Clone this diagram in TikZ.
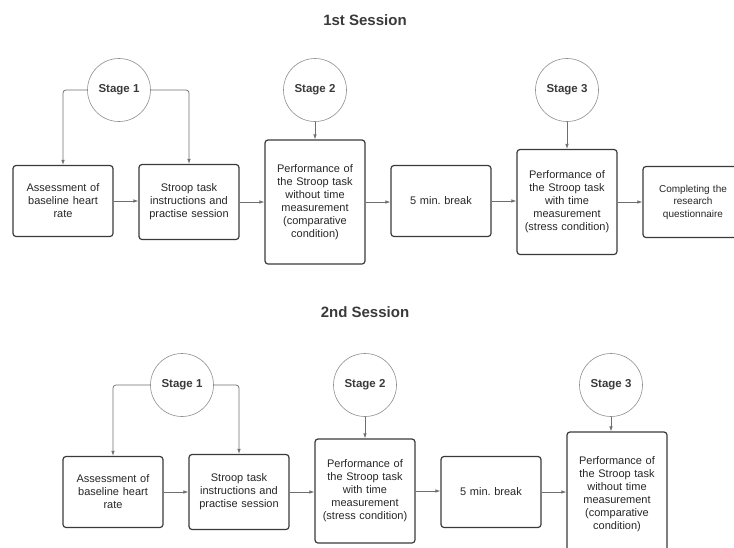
\documentclass[tikz,border=0pt]{standalone}
\usepackage{fontspec}
\setmainfont{Liberation Sans}
\usetikzlibrary{arrows.meta}
\definecolor{ink}{HTML}{262626}
\definecolor{rim}{HTML}{3A3A3A}
\definecolor{wire}{HTML}{6E6E6E}
\definecolor{ring}{HTML}{8E8E8E}
\frenchspacing

\begin{document}
\begin{tikzpicture}[x=1pt,y=-1pt,
  stepbox/.style={draw=rim,line width=1.2pt,rounded corners=3pt,minimum width=100pt,
    text width=96pt,align=center,inner sep=0pt,text=ink,font=\fontsize{11}{13}\selectfont},
  stage/.style={circle,draw=ring,line width=0.6pt,minimum size=63pt,inner sep=0pt,
    text=rim,font=\fontsize{11.5}{13}\selectfont\bfseries},
  title/.style={text=rim,font=\fontsize{15}{18}\selectfont\bfseries},
  link/.style={draw=wire,line width=0.7pt,-{Latex[length=5pt,width=3.5pt]}}]
  \useasboundingbox (0,0) rectangle (734,547);
  \clip (0,0) rectangle (734,547);

  % 1st session
  \node[title] (first) at (365,20) {1st Session};
  \node[stage] (s1) at (119,90) {Stage 1};
  \node[stage] (s2) at (315,90) {Stage 2};
  \node[stage] (s3) at (567,90) {Stage 3};

  \node[stepbox,minimum height=71pt] (a1) at (63,201) {Assessment of\\baseline heart\\rate};
  \node[stepbox,minimum height=75pt] (a2) at (189,202) {Stroop task\\instructions and\\practise session};
  \node[stepbox,minimum height=124pt] (a3) at (315,202) {Performance of\\the Stroop task\\without time\\measurement\\(comparative\\condition)};
  \node[stepbox,minimum height=71pt] (a4) at (441,201) {5 min. break};
  \node[stepbox,minimum height=105pt] (a5) at (567,202) {Performance of\\the Stroop task\\with time\\measurement\\(stress condition)};
  \node[stepbox,minimum height=71pt,font=\fontsize{10}{12.5}\selectfont] (a6) at (693,202) {Completing the\\research\\questionnaire};

  \draw[link,rounded corners=3pt] (s1.west) -| (a1.north);
  \draw[link,rounded corners=3pt] (s1.east) -| (a2.north);
  \draw[link] (s2.south) -- (s2.south |- a3.north);
  \draw[link] (s3.south) -- (s3.south |- a5.north);
  \foreach \i/\j in {a1/a2,a2/a3,a3/a4,a4/a5,a5/a6}
    \draw[link] (\i.east) -- (\i.east -| \j.west);

  % 2nd session
  \node[title] (second) at (365,312) {2nd Session};
  \node[stage] (t1) at (182,385) {Stage 1};
  \node[stage] (t2) at (365,385) {Stage 2};
  \node[stage] (t3) at (611,385) {Stage 3};

  \node[stepbox,minimum height=71pt] (b1) at (113,492) {Assessment of\\baseline heart\\rate};
  \node[stepbox,minimum height=75pt] (b2) at (239,492) {Stroop task\\instructions and\\practise session};
  \node[stepbox,minimum height=104pt] (b3) at (365,491) {Performance of\\the Stroop task\\with time\\measurement\\(stress condition)};
  \node[stepbox,minimum height=71pt] (b4) at (491,492) {5 min. break};
  \node[stepbox,minimum height=124pt] (b5) at (617,494) {Performance of\\the Stroop task\\without time\\measurement\\(comparative\\condition)};

  \draw[link,rounded corners=3pt] (t1.west) -| (b1.north);
  \draw[link,rounded corners=3pt] (t1.east) -| (b2.north);
  \draw[link] (t2.south) -- (t2.south |- b3.north);
  \draw[link] (t3.south) -- (t3.south |- b5.north);
  \foreach \i/\j in {b1/b2,b2/b3,b3/b4,b4/b5}
    \draw[link] (\i.east) -- (\i.east -| \j.west);
\end{tikzpicture}
\end{document}
